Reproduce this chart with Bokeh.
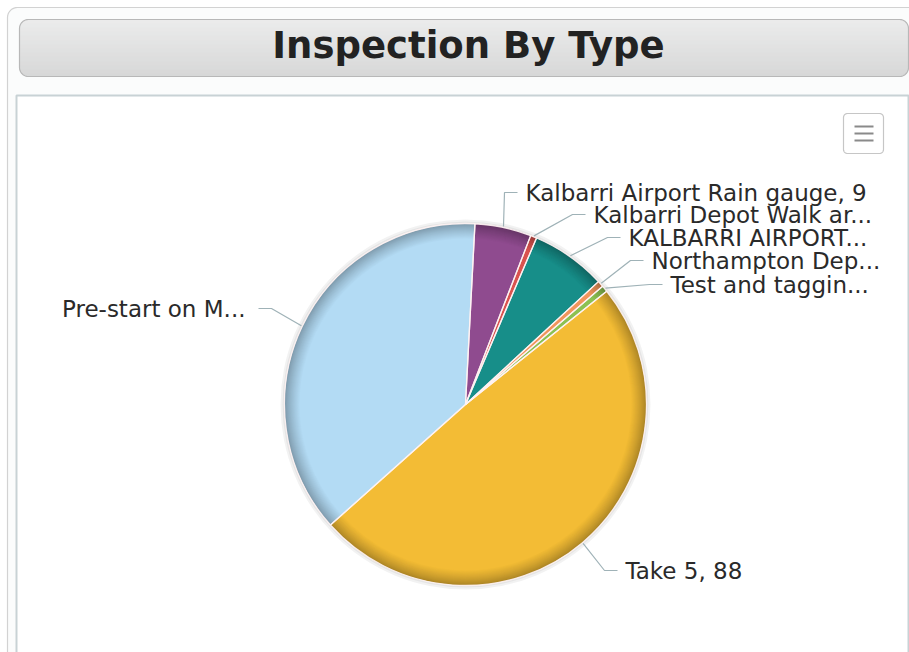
import numpy as np
from bokeh.plotting import figure
from bokeh.models import Range1d
from bokeh.core.properties import value
from bokeh.embed import file_html
from bokeh.resources import INLINE

W, H = 909, 652

# ---------------- data ----------------
categories = ["Kalbarri Airport Rain gauge", "Kalbarri Depot Walk ar...", "KALBARRI AIRPORT...",
              "Northampton Dep...", "Test and taggin...", "Take 5", "Pre-start on M..."]
values = [9, 1, 12, 1, 1, 88, 67]
label_text = ["Kalbarri Airport Rain gauge, 9", "Kalbarri Depot Walk ar...", "KALBARRI AIRPORT...",
              "Northampton Dep...", "Test and taggin...", "Take 5, 88", "Pre-start on M..."]
colors = ["#8f4b8f", "#d9534f", "#178e89", "#f0955c", "#8cc152", "#f3bc35", "#b3dbf4"]
title = "Inspection By Type"

# ---------------- layout (pixels, y down) ----------------
CX, CY, R = 465, 404, 181
START_DEG = 3.0
label_end_x = [517, 585, 620, 643, 662, 617, 258]
label_mid_y = [192, 214, 237, 260, 284, 570, 308]
label_side = ["r", "r", "r", "r", "r", "r", "l"]


def Y(y):
    return H - y


def hex2rgb(h):
    h = h.lstrip("#")
    return tuple(int(h[i:i + 2], 16) for i in (0, 2, 4))


def mix(c1, c2, t):
    a, b = hex2rgb(c1), hex2rgb(c2)
    return "#%02x%02x%02x" % tuple(int(round(a[i] + (b[i] - a[i]) * t)) for i in range(3))


def darken(c, f):
    return mix(c, "#000000", f)


def rounded_rect(x0, y0, x1, y1, r, n=10):
    xs, ys = [], []
    corners = [(x1 - r, y0 + r, -90, 0), (x1 - r, y1 - r, 0, 90),
               (x0 + r, y1 - r, 90, 180), (x0 + r, y0 + r, 180, 270)]
    for cx, cy, a0, a1 in corners:
        for a in np.linspace(np.radians(a0), np.radians(a1), n):
            xs.append(float(cx + r * np.cos(a)))
            ys.append(float(Y(cy + r * np.sin(a))))
    return xs, ys


p = figure(width=W, height=H, x_range=Range1d(0, W), y_range=Range1d(0, H),
           x_axis_type=None, y_axis_type=None, toolbar_location=None,
           output_backend="svg", min_border=0, outline_line_color=None,
           background_fill_color="white", border_fill_color="white")
p.xgrid.visible = False
p.ygrid.visible = False

# outer container
xs, ys = rounded_rect(7, 7, 930, 700, 10)
p.patch(xs, ys, fill_color="#fbfcfc", line_color="#d2d2d2", line_width=1.2)

# header bar with vertical gradient
hx0, hy0, hx1, hy1, hr = 19, 19, 908, 76, 9
lefts, rights, tops, bottoms, cols = [], [], [], [], []
for yy in range(hy0, hy1):
    yc = yy + 0.5
    d = min(yc - hy0, hy1 - yc)
    inset = hr - np.sqrt(max(hr ** 2 - (hr - d) ** 2, 0)) if d < hr else 0
    lefts.append(float(hx0 + inset))
    rights.append(float(hx1 - inset))
    tops.append(Y(yy))
    bottoms.append(Y(yy + 1))
    cols.append(mix("#e6e6e6", "#cbcbcb", (yy - hy0) / (hy1 - hy0)))
p.quad(left=lefts, right=rights, top=tops, bottom=bottoms, fill_color=cols, line_color=None)
xs, ys = rounded_rect(hx0, hy0, hx1, hy1, hr)
p.patch(xs, ys, fill_color=None, line_color="#b8b8b8", line_width=1.2)

p.text(x=[(273 + 663) / 2], y=[Y(45)], text=[title], text_font=value("DejaVu Sans"),
       text_font_style="bold", text_font_size="37px", text_color="#222222",
       text_align="center", text_baseline="middle")

# inner panel
p.quad(left=[16], right=[908], top=[Y(95)], bottom=[Y(700)], fill_color="white",
       line_color="#c8d2d5", line_width=2)

# menu button
xs, ys = rounded_rect(843, 113, 883, 153, 4)
p.patch(xs, ys, fill_color="white", line_color="#c6c6c6", line_width=1.2)
p.segment(x0=[854] * 3, x1=[873] * 3, y0=[Y(126), Y(133), Y(140)], y1=[Y(126), Y(133), Y(140)],
          line_color="#8a8a8a", line_width=2)

# ---------------- pie ----------------
vals = np.array(values, dtype=float)
total = vals.sum()
cum = np.concatenate([[0], np.cumsum(vals)])
th0 = START_DEG + cum[:-1] / total * 360.0
th1 = START_DEG + cum[1:] / total * 360.0
bstart = [float(v) for v in (90 - th1)]
bend = [float(v) for v in (90 - th0)]
n = len(values)

# soft halo
p.annulus(x=[CX], y=[Y(CY)], inner_radius=R, outer_radius=R + 4, fill_color="#000000",
          fill_alpha=0.05, line_color=None)
p.annulus(x=[CX], y=[Y(CY)], inner_radius=R, outer_radius=R + 2, fill_color="#000000",
          fill_alpha=0.05, line_color=None)

RIM = 15
STEPS = 15
edge_cols = [darken(c, 0.3) for c in colors]
for k in range(STEPS + 1):
    rr = R - k * RIM / STEPS
    t = (k / STEPS) ** 0.8
    cc = [mix(e, c, t) for e, c in zip(edge_cols, colors)]
    p.wedge(x=[CX] * n, y=[Y(CY)] * n, radius=rr, start_angle=bstart,
            end_angle=bend, start_angle_units="deg", end_angle_units="deg",
            fill_color=cc, line_color=None)
# slice borders
p.wedge(x=[CX] * n, y=[Y(CY)] * n, radius=R, start_angle=bstart,
        end_angle=bend, start_angle_units="deg", end_angle_units="deg",
        fill_color=None, line_color="#fff3f3", line_width=1.3, line_alpha=0.9)

# connectors and labels
mid = np.radians((th0 + th1) / 2)
cxs, cys = [], []
for i in range(n):
    ex = float(CX + (R + 1) * np.sin(mid[i]))
    ey = float(CY - (R + 1) * np.cos(mid[i]))
    ly = label_mid_y[i]
    endx = label_end_x[i]
    elbx = endx - 13 if label_side[i] == "r" else endx + 13
    cxs.append([ex, elbx, endx])
    cys.append([Y(ey), Y(ly), Y(ly)])
p.multi_line(xs=cxs, ys=cys, line_color="#9fb2b7", line_width=1.2)

rx = [label_end_x[i] + 8 for i in range(n) if label_side[i] == "r"]
ry = [Y(label_mid_y[i]) for i in range(n) if label_side[i] == "r"]
rt = [label_text[i] for i in range(n) if label_side[i] == "r"]
lx = [label_end_x[i] - 13 for i in range(n) if label_side[i] == "l"]
ly_ = [Y(label_mid_y[i]) for i in range(n) if label_side[i] == "l"]
lt = [label_text[i] for i in range(n) if label_side[i] == "l"]
p.text(x=rx, y=ry, text=rt, text_font=value("DejaVu Sans"), text_font_size="23px",
       text_color="#2a2a2a", text_align="left", text_baseline="middle")
p.text(x=lx, y=ly_, text=lt, text_font=value("DejaVu Sans"), text_font_size="23px",
       text_color="#2a2a2a", text_align="right", text_baseline="middle")

open("out.html", "w").write(file_html(p, INLINE))
